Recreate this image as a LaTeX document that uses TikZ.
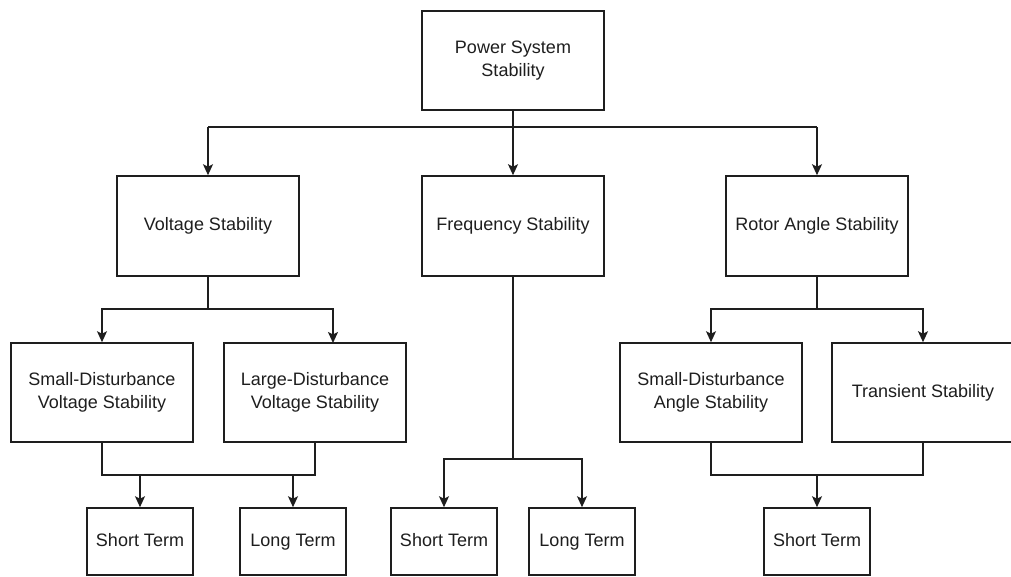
\documentclass[tikz,border=0pt]{standalone}
\usepackage{fontspec}
\setmainfont{Liberation Sans}
\usetikzlibrary{arrows.meta}
\definecolor{ink}{HTML}{1E1E1E}
\tikzset{
  box/.style={draw=ink, line width=1.6pt, fill=white, inner sep=0pt, align=center,
    font=\fontsize{18}{23}\selectfont, text=ink},
  bigbox/.style={box, minimum width=182pt, minimum height=99pt},
  smallbox/.style={box, minimum width=106pt, minimum height=67pt, text height=13pt, text depth=4pt},
  link/.style={draw=ink, line width=1.6pt},
  arr/.style={link, -{Stealth[length=11pt, width=10pt, inset=2.5pt]}}
}
\begin{document}
\begin{tikzpicture}[x=1pt, y=-1pt]
\useasboundingbox (0,0) rectangle (1011,576);
\clip (0,0) rectangle (1011,576);
\fill[white] (0,0) rectangle (1011,576);

\node[bigbox] (pss) at (513,60.5) {Power System\\Stability};
\node[bigbox, minimum height=100pt] (vs) at (208,226) {Voltage Stability};
\node[bigbox, minimum height=100pt] (fs) at (513,226) {Frequency Stability};
\node[bigbox, minimum height=100pt] (ras) at (817,226) {Rotor Angle Stability};

\node[bigbox] (sdvs) at (102,392.5) {Small-Disturbance\\Voltage Stability};
\node[bigbox] (ldvs) at (315,392.5) {Large-Disturbance\\Voltage Stability};
\node[bigbox] (sdas) at (711,392.5) {Small-Disturbance\\Angle Stability};
\node[bigbox] (ts) at (923,392.5) {Transient Stability};

\node[smallbox] (st1) at (140,541.5) {Short Term};
\node[smallbox] (lt1) at (293,541.5) {Long Term};
\node[smallbox] (st2) at (444,541.5) {Short Term};
\node[smallbox] (lt2) at (582,541.5) {Long Term};
\node[smallbox] (st3) at (817,541.5) {Short Term};

% top level
\coordinate (j0) at (513,127);
\coordinate (j0a) at (208,127);
\coordinate (j0b) at (817,127);
\draw[link] (pss.south) -- (j0);
\draw[link] (j0a) -- (j0b);
\draw[arr] (j0) -- (fs.north);
\draw[arr] (j0a) -- (vs.north);
\draw[arr] (j0b) -- (ras.north);

% voltage
\coordinate (j1) at (208,309);
\coordinate (ldvsin) at (333,343);
\draw[link] (vs.south) -- (j1);
\draw[arr] (j1) -| (sdvs.north);
\draw[arr] (j1) -| (ldvsin);
\coordinate (j2a) at (140,475);
\coordinate (j2b) at (293,475);
\draw[link] (sdvs.south) |- (j2a) -- (j2b) -| (ldvs.south);
\draw[arr] (j2a) -- (st1.north);
\draw[arr] (j2b) -- (lt1.north);

% frequency
\coordinate (j3) at (513,459);
\draw[link] (fs.south) -- (j3);
\draw[arr] (j3) -| (st2.north);
\draw[arr] (j3) -| (lt2.north);

% rotor angle
\coordinate (j4) at (817,309);
\draw[link] (ras.south) -- (j4);
\draw[arr] (j4) -| (sdas.north);
\draw[arr] (j4) -| (ts.north);
\coordinate (j5) at (817,475);
\draw[link] (sdas.south) |- (j5) -| (ts.south);
\draw[arr] (j5) -- (st3.north);
\end{tikzpicture}
\end{document}
